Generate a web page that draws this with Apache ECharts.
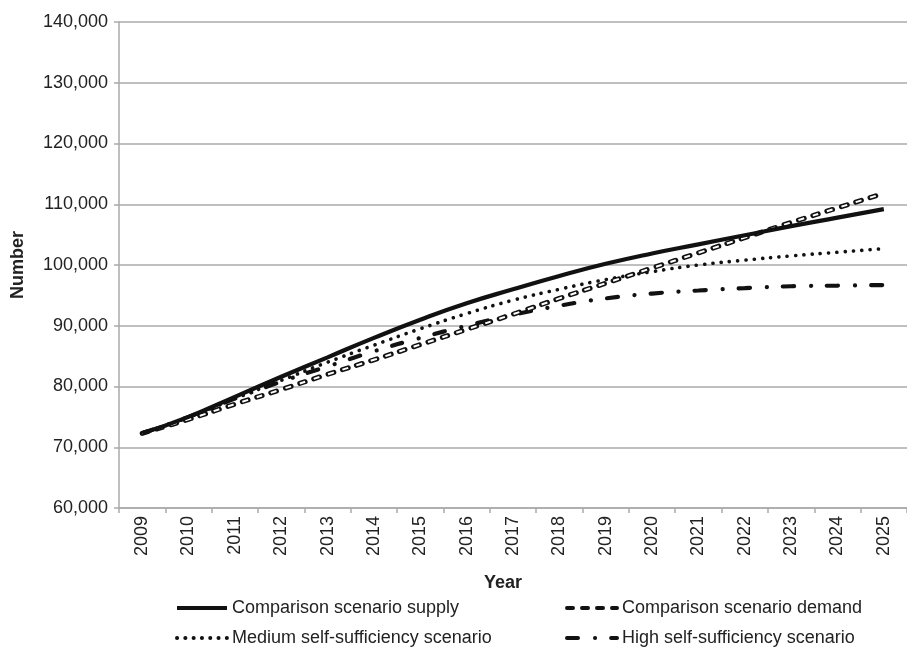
<!DOCTYPE html>
<html>
<head>
<meta charset="utf-8">
<script src="https://cdn.jsdelivr.net/npm/echarts@6/dist/echarts.min.js"></script>
<style>html,body{margin:0;padding:0;background:#fff}#c{width:907px;height:650px}</style>
</head>
<body>
<div id="c"></div>
<script>
var years = ['2009','2010','2011','2012','2013','2014','2015','2016','2017','2018','2019','2020','2021','2022','2023','2024','2025'];
var supply = [72300,75000,78300,81600,84800,88000,91000,93700,96000,98200,100200,101900,103400,104900,106400,107800,109200];
var demand = [72300,74600,77100,79500,82000,84400,86900,89400,91900,94500,97000,99500,102000,104500,107000,109400,111800];
var medium = [72300,74900,78000,81000,84000,86800,89500,92000,94200,96000,97600,98900,100000,100800,101500,102100,102700];
var high = [72300,75000,78000,80800,83300,85800,88000,90000,91800,93300,94500,95300,95800,96200,96500,96600,96700];
var yTicks = {min:60000, max:140000, interval:10000};

var FONT = '"Liberation Sans", Arial, Helvetica, sans-serif';
var names = ['Comparison scenario supply','Comparison scenario demand','Medium self-sufficiency scenario','High self-sufficiency scenario'];
var chart = echarts.init(document.getElementById('c'), null, {renderer:'canvas'});
var legendText = {fontFamily: FONT, fontSize: 18, color: '#222', lineHeight: 18};
var legendBase = {orient: 'vertical', itemGap: 12, itemWidth: 50, itemHeight: 14, top: 599, padding: 0,
  textStyle: legendText, lineStyle: {width: 4},
  itemStyle: {color: 'rgba(0,0,0,0)', borderColor: 'rgba(0,0,0,0)', borderWidth: 0}};
chart.setOption({
  animation: false,
  backgroundColor: '#fff',
  grid: {left: 119, top: 22, width: 795, height: 486, containLabel: false},
  legend: [
    Object.assign({}, legendBase, {left: 175, data: [names[0], names[2]]}),
    Object.assign({}, legendBase, {left: 565, data: [names[1], names[3]]})
  ],
  xAxis: {
    type: 'category', data: years, boundaryGap: true,
    name: 'Year', nameLocation: 'middle', nameGap: 66,
    nameTextStyle: {fontFamily: FONT, fontSize: 18, fontWeight: 'bold', color: '#222', padding: [0, 20, 0, 0]},
    axisLine: {lineStyle: {color: '#aaaaaa', width: 1.5}},
    axisTick: {show: true, length: 5, lineStyle: {color: '#aaaaaa', width: 1.5}, alignWithLabel: false},
    axisLabel: {rotate: 90, margin: 8, fontFamily: FONT, fontSize: 18, color: '#222', interval: 0}
  },
  yAxis: {
    type: 'value', min: yTicks.min, max: yTicks.max, interval: yTicks.interval,
    name: 'Number', nameLocation: 'middle', nameGap: 92, nameRotate: 90,
    nameTextStyle: {fontFamily: FONT, fontSize: 18, fontWeight: 'bold', color: '#222'},
    axisLine: {show: true, lineStyle: {color: '#aaaaaa', width: 1.5}},
    axisTick: {show: true, length: 5, lineStyle: {color: '#aaaaaa', width: 1.5}},
    splitLine: {lineStyle: {color: '#aaaaaa', width: 1.5}},
    axisLabel: {margin: 11, fontFamily: FONT, fontSize: 18, color: '#222',
      formatter: function(v){ return v.toLocaleString('en-US'); }}
  },
  series: [
    {name: names[0], type: 'line', data: supply, smooth: true, symbol: 'none', z: 5,
     lineStyle: {color: '#111', width: 4.2, type: 'solid'}, itemStyle: {color: '#111'}},
    {name: names[1], type: 'line', data: demand, smooth: true, symbol: 'none', z: 3,
     lineStyle: {color: '#111', width: 5, type: [6, 9], cap: 'round'}, itemStyle: {color: '#111'}},
    {name: names[1], type: 'line', data: demand, smooth: true, symbol: 'none', z: 4,
     lineStyle: {color: '#fff', width: 2, type: [6, 9], cap: 'butt'}, itemStyle: {color: '#111'}, legendHoverLink: false},
    {name: names[2], type: 'line', data: medium, smooth: true, symbol: 'none', z: 3,
     lineStyle: {color: '#111', width: 3.6, type: [0.1, 8.2], cap: 'round'}, itemStyle: {color: '#111'}},
    {name: names[3], type: 'line', data: high, smooth: true, symbol: 'none', z: 3,
     lineStyle: {color: '#111', width: 4.2, type: [11, 17, 0.1, 16], cap: 'round'}, itemStyle: {color: '#111'}}
  ]
});
</script>
</body>
</html>
